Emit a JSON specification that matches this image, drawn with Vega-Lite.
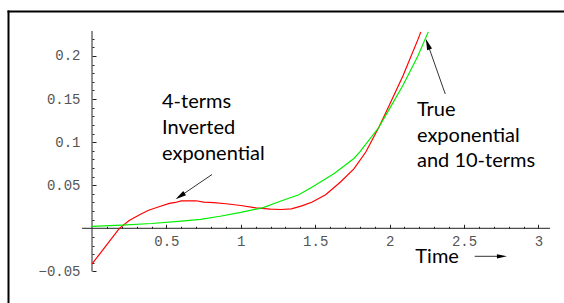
{
  "$schema": "https://vega.github.io/schema/vega-lite/v6.json",
  "width": 564,
  "height": 303,
  "autosize": {"type": "none"},
  "padding": 0,
  "background": "white",
  "config": {"view": {"stroke": null}},
  "datasets": {
    "curves": [
      {"t": 0, "v": -0.0414, "s": "4-terms"},
      {"t": 0.1, "v": -0.019, "s": "4-terms"},
      {"t": 0.184, "v": 0, "s": "4-terms"},
      {"t": 0.25, "v": 0.009, "s": "4-terms"},
      {"t": 0.32, "v": 0.0158, "s": "4-terms"},
      {"t": 0.38, "v": 0.021, "s": "4-terms"},
      {"t": 0.45, "v": 0.025, "s": "4-terms"},
      {"t": 0.52, "v": 0.029, "s": "4-terms"},
      {"t": 0.56, "v": 0.03, "s": "4-terms"},
      {"t": 0.6, "v": 0.0318, "s": "4-terms"},
      {"t": 0.7, "v": 0.032, "s": "4-terms"},
      {"t": 0.75, "v": 0.0305, "s": "4-terms"},
      {"t": 0.82, "v": 0.0297, "s": "4-terms"},
      {"t": 0.9, "v": 0.0285, "s": "4-terms"},
      {"t": 1.0, "v": 0.0265, "s": "4-terms"},
      {"t": 1.1, "v": 0.0238, "s": "4-terms"},
      {"t": 1.2, "v": 0.0222, "s": "4-terms"},
      {"t": 1.27, "v": 0.0218, "s": "4-terms"},
      {"t": 1.34, "v": 0.0225, "s": "4-terms"},
      {"t": 1.41, "v": 0.026, "s": "4-terms"},
      {"t": 1.48, "v": 0.0305, "s": "4-terms"},
      {"t": 1.57, "v": 0.039, "s": "4-terms"},
      {"t": 1.67, "v": 0.0537, "s": "4-terms"},
      {"t": 1.76, "v": 0.069, "s": "4-terms"},
      {"t": 1.84, "v": 0.0886, "s": "4-terms"},
      {"t": 1.927, "v": 0.117, "s": "4-terms"},
      {"t": 1.99, "v": 0.14, "s": "4-terms"},
      {"t": 2.09, "v": 0.177, "s": "4-terms"},
      {"t": 2.19, "v": 0.219, "s": "4-terms"},
      {"t": 2.21, "v": 0.228, "s": "4-terms"},
      {"t": 0, "v": 0.0023, "s": "True"},
      {"t": 0.2, "v": 0.0037, "s": "True"},
      {"t": 0.4, "v": 0.0056, "s": "True"},
      {"t": 0.6, "v": 0.0083, "s": "True"},
      {"t": 0.73, "v": 0.0104, "s": "True"},
      {"t": 0.86, "v": 0.014, "s": "True"},
      {"t": 1.0, "v": 0.0185, "s": "True"},
      {"t": 1.15, "v": 0.024, "s": "True"},
      {"t": 1.27, "v": 0.0317, "s": "True"},
      {"t": 1.39, "v": 0.039, "s": "True"},
      {"t": 1.5, "v": 0.05, "s": "True"},
      {"t": 1.63, "v": 0.064, "s": "True"},
      {"t": 1.76, "v": 0.081, "s": "True"},
      {"t": 1.8, "v": 0.0886, "s": "True"},
      {"t": 1.927, "v": 0.117, "s": "True"},
      {"t": 1.99, "v": 0.136, "s": "True"},
      {"t": 2.09, "v": 0.166, "s": "True"},
      {"t": 2.19, "v": 0.2, "s": "True"},
      {"t": 2.26, "v": 0.228, "s": "True"}
    ],
    "notes": [
      {"tx": 0.4704, "ty": 0.147, "label": "4-terms"},
      {"tx": 0.4704, "ty": 0.1164, "label": "Inverted"},
      {"tx": 0.4704, "ty": 0.0862, "label": "exponential"},
      {"tx": 2.184, "ty": 0.1373, "label": "True"},
      {"tx": 2.184, "ty": 0.1077, "label": "exponential"},
      {"tx": 2.184, "ty": 0.0778, "label": "and 10-terms"},
      {"tx": 2.173, "ty": -0.0333, "label": "Time"}
    ],
    "shafts": [
      {"ax": 0.8065, "ay": 0.06245, "ax2": 0.592, "ay2": 0.03726},
      {"ax": 2.374, "ay": 0.1559, "ax2": 2.256, "ay2": 0.2139},
      {"ax": 2.572, "ay": -0.0325, "ax2": 2.755, "ay2": -0.0325}
    ]
  },
  "layer": [
    {
      "data": {"values": [{"bx": -0.5612, "by": 0.2529, "by2": -0.0867}]},
      "mark": {"type": "rule", "color": "#000", "strokeWidth": 2},
      "encoding": {
        "x": {"field": "bx", "type": "quantitative", "axis": null, "scale": {"domain": [-0.6183, 3.172], "nice": false, "zero": false}},
        "y": {"field": "by", "type": "quantitative", "axis": null, "scale": {"domain": [-0.0867, 0.265], "nice": false, "zero": false}},
        "y2": {"field": "by2"}
      }
    },
    {
      "data": {"values": [{"bx": -0.5679, "bx2": 3.172, "by": 0.2517}]},
      "mark": {"type": "rule", "color": "#000", "strokeWidth": 2},
      "encoding": {
        "x": {"field": "bx", "type": "quantitative", "axis": null},
        "x2": {"field": "bx2"},
        "y": {"field": "by", "type": "quantitative", "axis": null}
      }
    },
    {
      "data": {"values": [{"ax": -0.067, "ax2": 3.078, "ay": 0}]},
      "mark": {"type": "rule", "color": "#222", "strokeWidth": 1},
      "encoding": {
        "x": {"field": "ax", "type": "quantitative", "axis": {"orient": "bottom", "offset": -74.7, "title": null, "domain": false, "grid": false, "ticks": false, "values": [0.5, 1, 1.5, 2, 2.5, 3], "format": "~g", "labelFont": "Liberation Mono", "labelFontSize": 14, "labelColor": "#555", "labelBaseline": "middle", "labelPadding": 12.7, "labelFlush": false}},
        "x2": {"field": "ax2"},
        "y": {"field": "ay", "type": "quantitative", "axis": null}
      }
    },
    {
      "data": {"values": [{"ax": 0, "ay": -0.05, "ay2": 0.229}]},
      "mark": {"type": "rule", "color": "#222", "strokeWidth": 1},
      "encoding": {
        "x": {"field": "ax", "type": "quantitative", "axis": null},
        "y": {"field": "ay", "type": "quantitative", "axis": {"orient": "left", "offset": -92, "title": null, "domain": false, "grid": false, "ticks": false, "values": [-0.05, 0.05, 0.1, 0.15, 0.2], "format": "~g", "labelFont": "Liberation Mono", "labelFontSize": 14, "labelColor": "#555", "labelPadding": 12, "labelFlush": false}},
        "y2": {"field": "ay2"}
      }
    },
    {
      "data": {"name": "curves"},
      "mark": {"type": "line", "strokeWidth": 1.2},
      "encoding": {
        "x": {"field": "t", "type": "quantitative", "axis": {"orient": "top", "offset": -228.3, "title": null, "domain": false, "grid": false, "labels": false, "tickColor": "#222", "tickWidth": 1, "values": [0.1, 0.2, 0.3, 0.4, 0.5, 0.6, 0.7, 0.8, 0.9, 1.0, 1.1, 1.2, 1.3, 1.4, 1.5, 1.6, 1.7, 1.8, 1.9, 2.0, 2.1, 2.2, 2.3, 2.4, 2.5, 2.6, 2.7, 2.8, 2.9, 3.0], "tickSize": {"condition": {"test": "abs(datum.value*2 - round(datum.value*2)) < 0.001", "value": 4}, "value": 2}}},
        "y": {"field": "v", "type": "quantitative", "axis": {"orient": "right", "offset": -472, "title": null, "domain": false, "grid": false, "labels": false, "tickColor": "#222", "tickWidth": 1, "values": [-0.05, -0.04, -0.03, -0.02, -0.01, 0.01, 0.02, 0.03, 0.04, 0.05, 0.06, 0.07, 0.08, 0.09, 0.1, 0.11, 0.12, 0.13, 0.14, 0.15, 0.16, 0.17, 0.18, 0.19, 0.2, 0.21, 0.22], "tickSize": {"condition": {"test": "abs(datum.value*20 - round(datum.value*20)) < 0.001", "value": 4}, "value": 2}}},
        "color": {"field": "s", "type": "nominal", "legend": null, "scale": {"domain": ["4-terms", "True"], "range": ["#ff0000", "#00ee00"]}},
        "detail": {"field": "s"}
      }
    },
    {
      "data": {"name": "notes"},
      "mark": {"type": "text", "font": "Lato", "fontSize": 20, "align": "left", "baseline": "middle", "color": "#000"},
      "encoding": {
        "x": {"field": "tx", "type": "quantitative", "axis": null},
        "y": {"field": "ty", "type": "quantitative", "axis": null},
        "text": {"field": "label"}
      }
    },
    {
      "data": {"name": "shafts"},
      "mark": {"type": "rule", "color": "#333", "strokeWidth": 1},
      "encoding": {
        "x": {"field": "ax", "type": "quantitative", "axis": null},
        "y": {"field": "ay", "type": "quantitative", "axis": null},
        "x2": {"field": "ax2"},
        "y2": {"field": "ay2"}
      }
    },
    {
      "data": {"values": [{"hx": 0.592, "hy": 0.03726}]},
      "mark": {"type": "point", "shape": "M0,-1L0.45,1L-0.45,1Z", "filled": true, "opacity": 1, "size": 120, "angle": 235.8, "color": "#000"},
      "encoding": {
        "x": {"field": "hx", "type": "quantitative", "axis": null},
        "y": {"field": "hy", "type": "quantitative", "axis": null}
      }
    },
    {
      "data": {"values": [{"hx": 2.256, "hy": 0.2139}]},
      "mark": {"type": "point", "shape": "M0,-1L0.45,1L-0.45,1Z", "filled": true, "opacity": 1, "size": 130, "angle": 340.5, "color": "#000"},
      "encoding": {
        "x": {"field": "hx", "type": "quantitative", "axis": null},
        "y": {"field": "hy", "type": "quantitative", "axis": null}
      }
    },
    {
      "data": {"values": [{"hx": 2.755, "hy": -0.0325}]},
      "mark": {"type": "point", "shape": "M0,-1L0.42,1L-0.42,1Z", "filled": true, "opacity": 1, "size": 100, "angle": 90, "color": "#000"},
      "encoding": {
        "x": {"field": "hx", "type": "quantitative", "axis": null},
        "y": {"field": "hy", "type": "quantitative", "axis": null}
      }
    }
  ]
}
